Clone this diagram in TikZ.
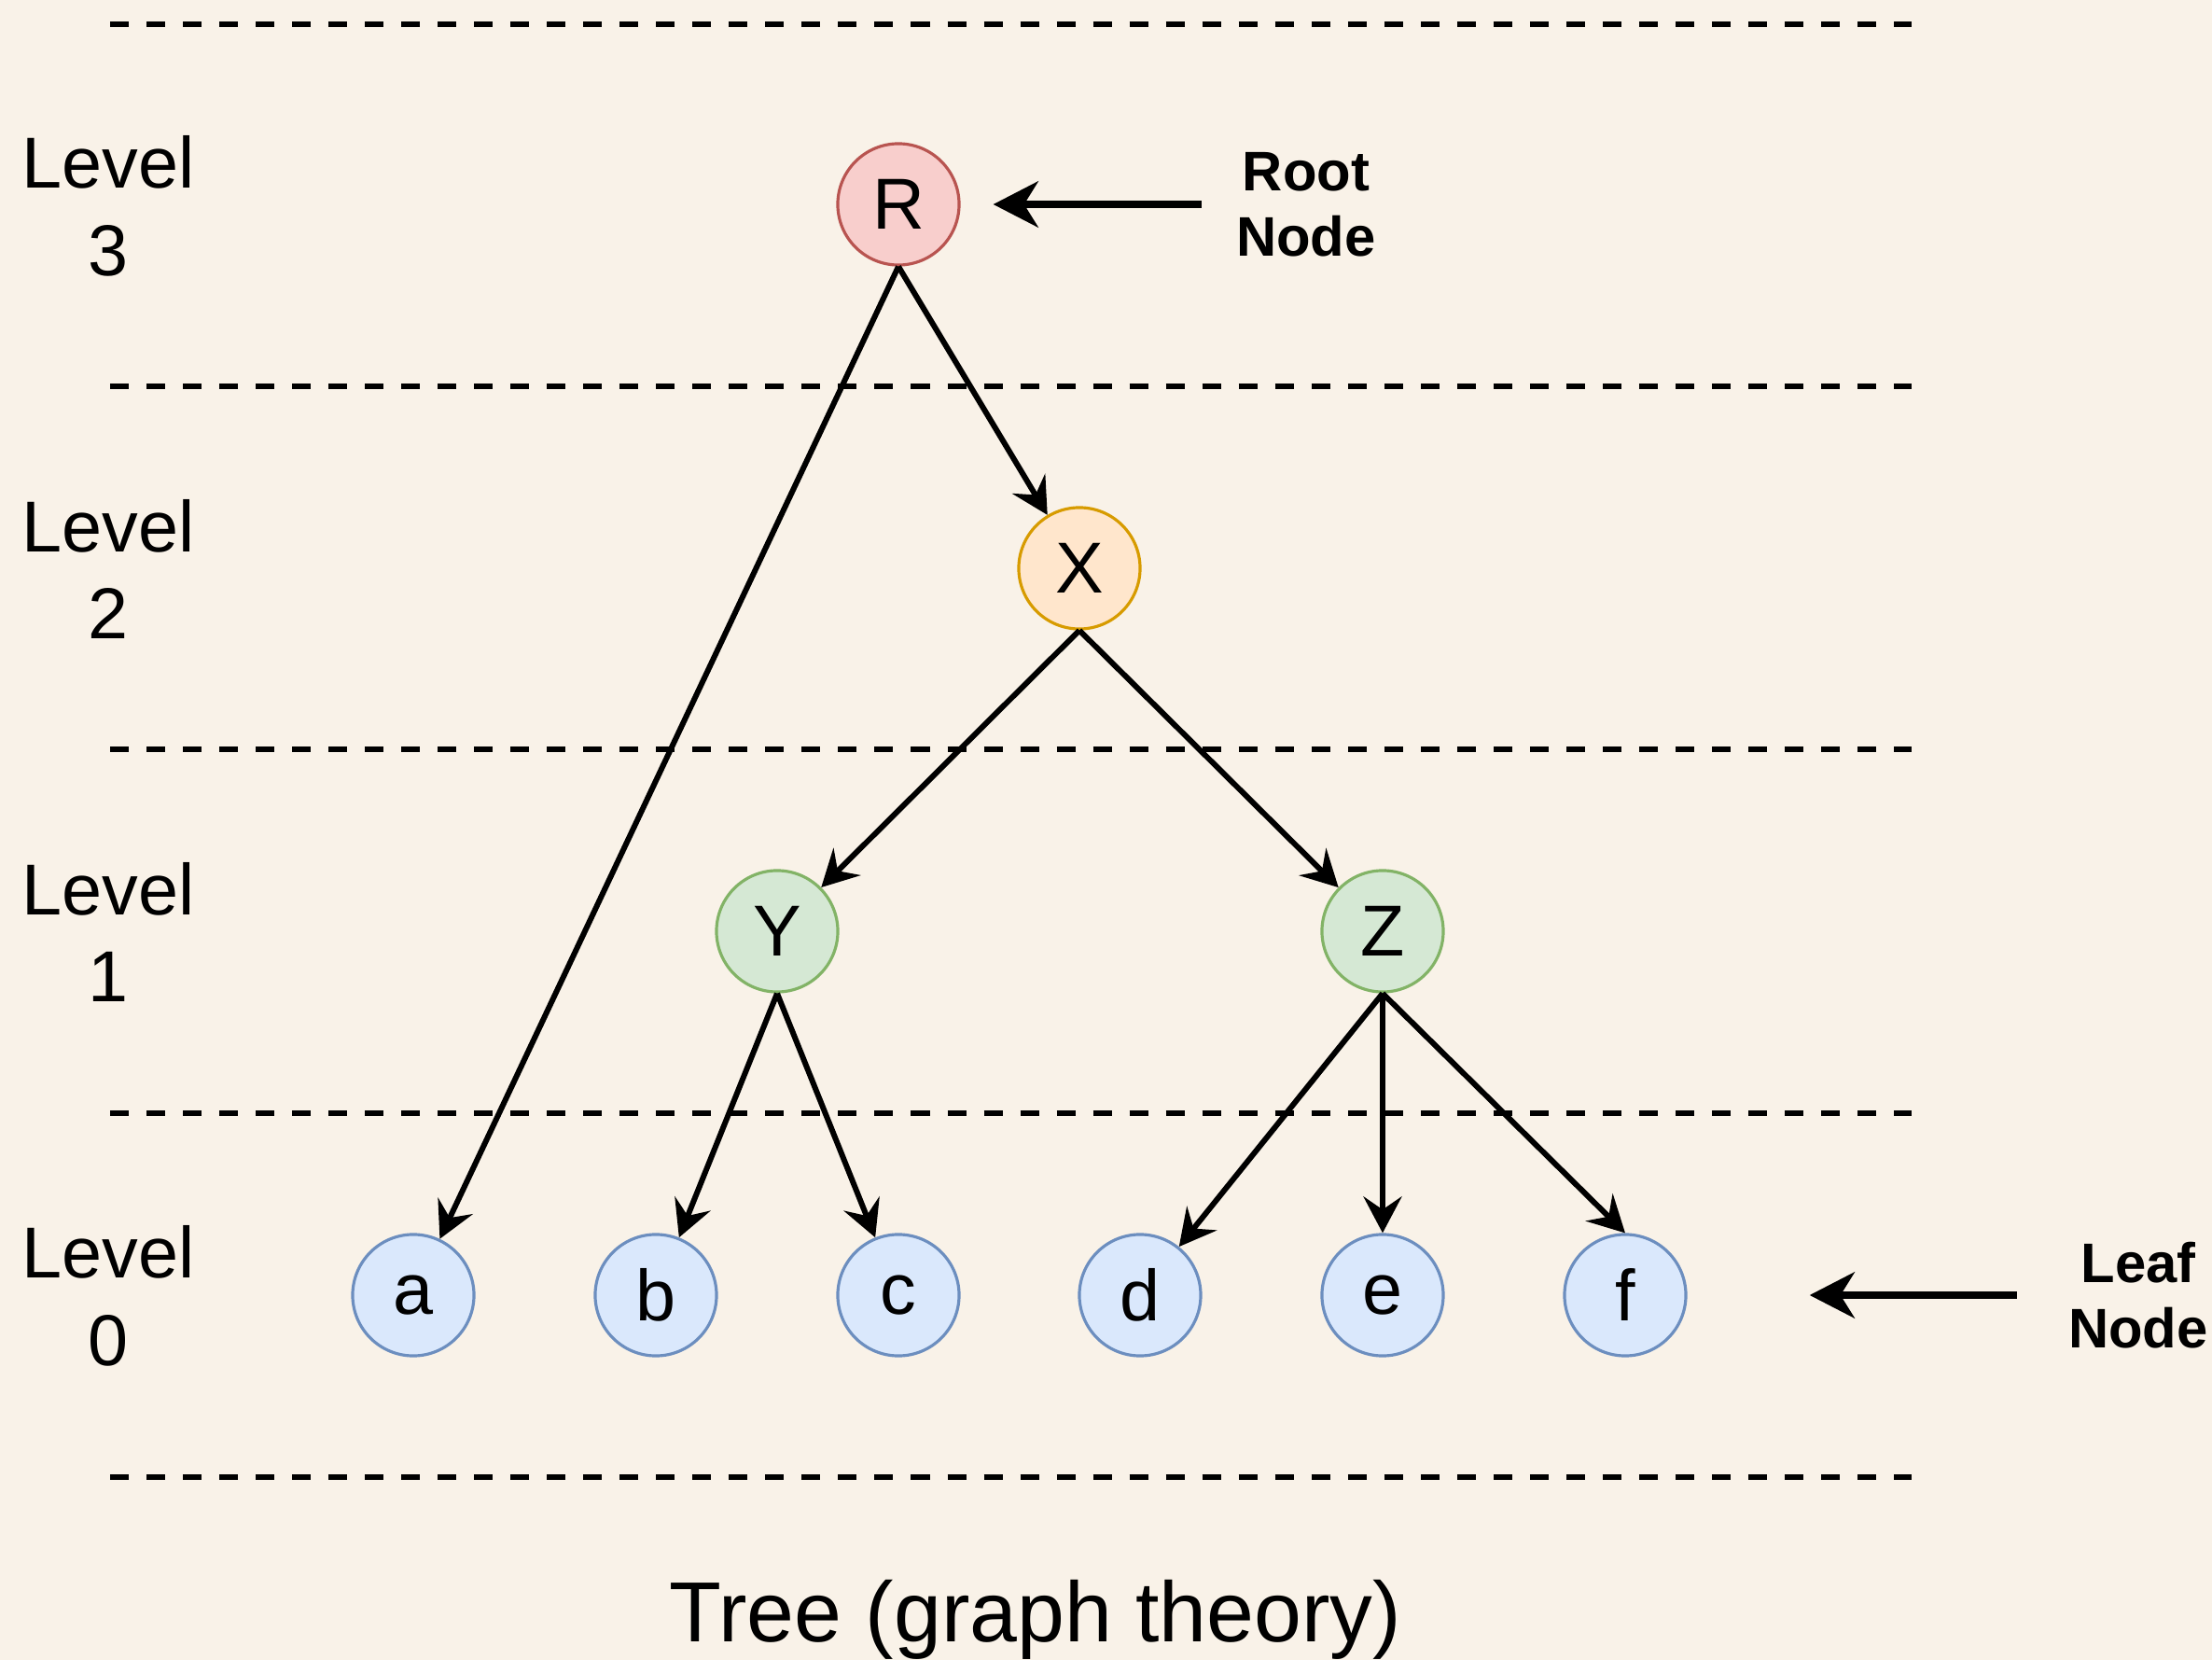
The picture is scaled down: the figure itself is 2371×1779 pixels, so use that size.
\documentclass[tikz,border=0pt]{standalone}
\usepackage{fontspec}
\setmainfont{Liberation Sans}
\usepackage{tikz}
\usetikzlibrary{arrows.meta}
\definecolor{trbg}{HTML}{F9F2E8}
\definecolor{trredfill}{HTML}{F8CECC}
\definecolor{trreddraw}{HTML}{B85450}
\definecolor{trorangefill}{HTML}{FFE6CC}
\definecolor{trorangedraw}{HTML}{D79B00}
\definecolor{trgreenfill}{HTML}{D5E8D4}
\definecolor{trgreendraw}{HTML}{82B366}
\definecolor{trbluefill}{HTML}{DAE8FC}
\definecolor{trbluedraw}{HTML}{6C8EBF}

\begin{document}
\begin{tikzpicture}[x=0.01cm, y=-0.01cm,
  vertex/.style={circle, draw, line width=0.9pt, minimum size=1.3cm, inner sep=0pt, font=\fontsize{22}{26}\selectfont},
  lvl/.style={align=center, inner sep=0pt, font=\fontsize{22}{26.7}\selectfont},
  band/.style={dash pattern=on 0.2cm off 0.19cm, line width=1.9pt},
  edge/.style={-{Stealth[length=0.39cm, width=0.41cm, inset=0.14cm]}, line width=1.7pt},
  pointer/.style={-{Stealth[length=0.48cm, width=0.49cm, inset=0.15cm]}, line width=2.5pt},
  note/.style={align=center, inner sep=0pt, font=\fontsize{17}{20}\selectfont\bfseries}
]
\fill[trbg] (0,0) rectangle (2371,1779);
\useasboundingbox (0,0) rectangle (2371,1779);
% ---------- level bands ----------
\foreach \y in {26, 414, 803, 1193, 1583}
  \draw[band] (118,\y) -- (2049,\y);
\foreach \y/\n in {221/3, 610/2, 999/1, 1389/0}
  \node[lvl] (lvl\n) at (116,\y) {Level\\\n};
% ---------- tree ----------
\node[vertex, draw=trreddraw, fill=trredfill] (R) at (963,219) {R};
\node[vertex, draw=trorangedraw, fill=trorangefill] (X) at (1157,609) {X};
\node[vertex, draw=trgreendraw, fill=trgreenfill] (Y) at (833,998) {Y};
\node[vertex, draw=trgreendraw, fill=trgreenfill] (Z) at (1482,998) {Z};
\foreach \n/\x in {a/443, b/703, c/963, d/1222, e/1482, f/1742}
  \node[vertex, draw=trbluedraw, fill=trbluefill] (\n) at (\x,1388) {\n};
\foreach \p/\c in {R/a, R/X, X/Y, X/Z, Y/b, Y/c, Z/d, Z/e}
  \draw[edge] (\p.south) -- (\c);
\draw[edge] (Z.south) -- (f.north);
% ---------- pointers ----------
\node[note] (rootlbl) at (1400,219) {Root\\Node};
\draw[pointer, shorten <=0.37cm, shorten >=0.35cm] (rootlbl.west) -- (R.east);
\node[note] (leaflbl) at (2292,1388) {Leaf\\Node};
\draw[pointer, shorten <=0.55cm, shorten >=1.31cm] (leaflbl.west) -- (f.east);
% ---------- caption ----------
\node[font=\fontsize{26}{31}\selectfont, anchor=base] (title) at (1110,1759) {Tree (graph theory)};
\end{tikzpicture}
\end{document}
